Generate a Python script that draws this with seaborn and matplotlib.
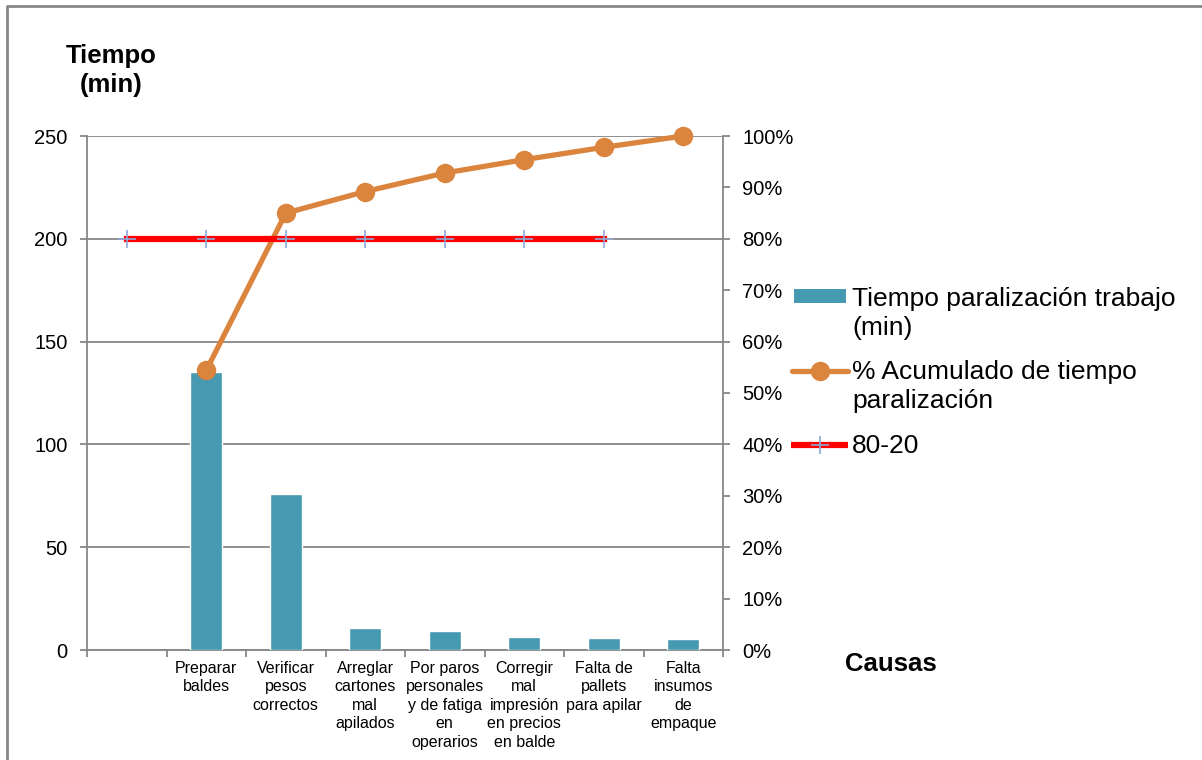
import matplotlib
matplotlib.use("Agg")
import matplotlib.pyplot as plt
from matplotlib.lines import Line2D
from matplotlib.patches import Rectangle
from matplotlib.ticker import FuncFormatter, MultipleLocator
import numpy as np
import pandas as pd
import seaborn as sns

# ---- data -------------------------------------------------------------
causas = [
    "Preparar\nbaldes",
    "Verificar\npesos\ncorrectos",
    "Arreglar\ncartones\nmal\napilados",
    "Por paros\npersonales\ny de fatiga\nen\noperarios",
    "Corregir\nmal\nimpresión\nen precios\nen balde",
    "Falta de\npallets\npara apilar",
    "Falta\ninsumos\nde\nempaque",
]
tiempo_min = [135, 76, 10.5, 9, 6.3, 6, 5.5]
pct_acumulado = [54.4, 85.0, 89.2, 92.8, 95.4, 97.8, 100.0]
linea_80_20 = [80, 80, 80, 80, 80, 80, 80]

# leading blank slot on the category axis, as in the original workbook
orden = [""] + causas

etq_barras = "Tiempo paralización trabajo\n(min)"
etq_acum = "% Acumulado de tiempo\nparalización"
etq_8020 = "80-20"

# ---- style ------------------------------------------------------------
sns.set_theme(style="white")
plt.rcParams["font.family"] = ["Liberation Sans", "DejaVu Sans"]
plt.rcParams["text.color"] = "black"
plt.rcParams["axes.labelcolor"] = "black"

C_BAR = "#4599B1"
C_ACUM = "#DB843D"
C_RED = "#FF0000"
C_PLUS = "#8EA8D8"
C_GRAY = "#878787"

W, H = 1202, 760
fig = plt.figure(figsize=(W / 100, H / 100), dpi=100)
fig.patch.set_facecolor("white")


def fx(x):
    return x / W


def fy(y):
    return 1 - y / H


ax = fig.add_axes([fx(87), fy(650), fx(723) - fx(87), fy(136) - fy(650)])

df = pd.DataFrame({"causa": causas, "tiempo": tiempo_min})
sns.barplot(data=df, x="causa", y="tiempo", order=orden, color=C_BAR,
            saturation=1, width=0.4, ax=ax, zorder=3)

ax.set_xlim(-0.5, len(orden) - 0.5)
ax.set_ylim(0, 250)
ax.yaxis.set_major_locator(MultipleLocator(50))
ax.set_xlabel("")
ax.set_ylabel("")
ax.grid(axis="y", color=C_GRAY, linewidth=1.3, zorder=0)
ax.grid(axis="x", visible=False)
ax.set_axisbelow(True)

for side in ("top", "right"):
    ax.spines[side].set_visible(False)
for side in ("left", "bottom"):
    ax.spines[side].set_color(C_GRAY)
    ax.spines[side].set_linewidth(1.3)

ax.set_xticks(np.arange(len(orden)))
ax.set_xticklabels(orden, fontsize=11.5, linespacing=1.28, va="top")
ax.set_xticks(np.arange(len(orden) + 1) - 0.5, minor=True)
ax.tick_params(axis="x", which="major", length=0, pad=8, labelcolor="black")
ax.tick_params(axis="x", which="minor", length=5, width=1.3, color=C_GRAY,
               direction="out", bottom=True)
ax.tick_params(axis="y", length=5, width=1.3, color=C_GRAY, direction="out",
               labelsize=14.5, pad=9, labelcolor="black", left=True)

# ---- secondary axis: cumulative percentage -----------------------------
ax2 = ax.twinx()
ax2.set_ylim(0, 100)
ax2.yaxis.set_major_locator(MultipleLocator(10))
ax2.yaxis.set_major_formatter(FuncFormatter(lambda v, _: f"{v:.0f}%"))
ax2.tick_params(axis="y", length=5, width=1.3, color=C_GRAY, direction="out",
                labelsize=14.5, pad=9, labelcolor="black", right=True)
for side in ("top", "left", "bottom"):
    ax2.spines[side].set_visible(False)
ax2.spines["right"].set_color(C_GRAY)
ax2.spines["right"].set_linewidth(1.3)
ax2.grid(False)

pos_causas = [orden.index(c) for c in causas]
pos_8020 = list(range(len(linea_80_20)))

ax2.plot(pos_causas, pct_acumulado, color=C_ACUM, linewidth=3.8,
         marker="o", markersize=14, markeredgewidth=0, zorder=4,
         clip_on=False)
ax2.plot(pos_8020, linea_80_20, color=C_RED, linewidth=4.5,
         marker="+", markersize=13, markeredgewidth=1.2,
         markeredgecolor=C_PLUS, solid_capstyle="projecting", zorder=5)

# ---- titles (va="baseline" anchors the last line of the text) -----------
fig.text(fx(111), fy(92), "Tiempo\n(min)", ha="center", va="baseline",
         multialignment="center", fontsize=18.5, fontweight="bold",
         linespacing=1.25)
fig.text(fx(891), fy(671), "Causas", ha="center", va="baseline",
         fontsize=18.5, fontweight="bold")

# ---- legend -----------------------------------------------------------
fig.add_artist(Rectangle((fx(794), fy(303)), fx(846) - fx(794),
                         fy(289) - fy(303), transform=fig.transFigure,
                         facecolor=C_BAR, edgecolor="none"))
fig.add_artist(Line2D([fx(792), fx(848)], [fy(371), fy(371)],
                      transform=fig.transFigure, color=C_ACUM, linewidth=3.8))
fig.add_artist(Line2D([fx(820)], [fy(371)], transform=fig.transFigure,
                      color=C_ACUM, marker="o", markersize=14,
                      markeredgewidth=0))
fig.add_artist(Line2D([fx(791), fx(848)], [fy(445), fy(445)],
                      transform=fig.transFigure, color=C_RED, linewidth=4.5,
                      solid_capstyle="butt"))
fig.add_artist(Line2D([fx(820)], [fy(445)], transform=fig.transFigure,
                      color=C_PLUS, marker="+", markersize=13,
                      markeredgewidth=1.2))
for etq, yb in ((etq_barras, 335), (etq_acum, 408), (etq_8020, 453)):
    fig.text(fx(852), fy(yb), etq, ha="left", va="baseline", fontsize=19,
             linespacing=1.25)

# ---- chart-area frame (top and left edges) ------------------------------
fig.add_artist(Line2D([fx(7), fx(7), 1.0], [0.0, fy(6), fy(6)],
                      transform=fig.transFigure, color=C_GRAY, linewidth=2))

fig.savefig("out.png", dpi=100, facecolor="white")
